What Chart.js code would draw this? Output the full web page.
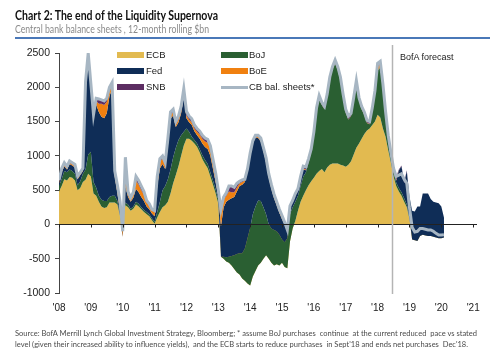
<!DOCTYPE html>
<html>
<head>
<meta charset="utf-8">
<script src="https://cdn.jsdelivr.net/npm/chart.js@4.4.1/dist/chart.umd.min.js"></script>
<style>
  body { margin: 0; width: 500px; height: 362px; background: #fff; position: relative; overflow: hidden; }
  #wrap { position: absolute; left: 0; top: 0; width: 500px; height: 362px; }
  .txt { position: absolute; white-space: nowrap; transform-origin: 0 50%; }
  #title { left: 15px; top: 9px; font: 700 12.5px/14px Lato, sans-serif; color: #111; }
  #subtitle { left: 15px; top: 23px; font: 400 10.5px/12px Lato, sans-serif; color: #8a8a8a; }
  #rule { position: absolute; left: 15px; top: 37px; width: 475px; height: 1.5px; background: #4a78b8; }
  .note { left: 15px; font: 400 8px/10px Lato, sans-serif; color: #4a4a4a; }
  .leg { position: absolute; font: 9.5px/12px "Liberation Sans", Arial, sans-serif; color: #222; }
  .sw { position: absolute; width: 27px; height: 6px; }
  #fc { position: absolute; left: 400px; top: 51px; font: 9px/12px "Liberation Sans", Arial, sans-serif; color: #222; }
</style>
</head>
<body>
<div id="wrap"><canvas id="chart"></canvas></div>

<div class="txt" id="title">Chart 2: The end of the Liquidity Supernova</div>
<div class="txt" id="subtitle">Central bank balance sheets , 12-month rolling $bn</div>
<div id="rule"></div>

<!-- legend, two columns inside the plot -->
<div class="sw" style="left:117px;top:52px;background:#e2ba50"></div><div class="leg" style="left:146px;top:49px">ECB</div>
<div class="sw" style="left:117px;top:68px;background:#0f2d57"></div><div class="leg" style="left:146px;top:65px">Fed</div>
<div class="sw" style="left:117px;top:84px;background:#5c2d62"></div><div class="leg" style="left:146px;top:81px">SNB</div>
<div class="sw" style="left:221px;top:52px;background:#2a5f32"></div><div class="leg" style="left:249px;top:49px">BoJ</div>
<div class="sw" style="left:221px;top:68px;background:#f08010"></div><div class="leg" style="left:249px;top:65px">BoE</div>
<div class="sw" style="left:221px;top:86px;height:2.5px;background:#a7b6c3"></div><div class="leg" style="left:249px;top:81px">CB bal. sheets*</div>

<div id="fc">BofA forecast</div>

<div class="txt note" id="note1" style="top:328px">Source: BofA Merrill Lynch Global Investment Strategy, Bloomberg; * assume BoJ purchases&nbsp; continue&nbsp; at the current reduced&nbsp; pace vs stated</div>
<div class="txt note" id="note2" style="top:339px">level (given their increased ability to influence yields),&nbsp; and the ECB starts to reduce purchases&nbsp; in Sept'18 and ends net purchases&nbsp; Dec'18.</div>

<script>
// monthly series, Jan 2008 onwards, $bn (12-month rolling change)
const startYear = 2008;

const ecb = [480,560,660,640,690,680,640,500,530,620,
  650,740,700,450,420,330,260,240,250,320,
  320,320,290,120,20,280,250,200,230,290,
  260,220,180,150,120,60,10,100,180,250,
  280,330,450,600,720,850,1000,1150,1250,1250,
  1220,1180,1130,1050,950,880,820,700,580,450,
  300,-470,-500,-540,-560,-600,-650,-700,-730,-790,
  -820,-860,-890,-760,-680,-600,-560,-500,-450,-500,
  -560,-600,-580,-600,-560,-620,-640,-250,-60,50,
  200,330,420,500,570,630,680,740,780,810,
  760,830,870,890,890,890,870,860,840,870,
  920,1020,1120,1180,1250,1320,1370,1400,1450,1500,
  1600,1560,1400,1280,1080,900,700,560,480,420,
  330,250,80,-220,-230,-240,-170,-150,-160,-170,
  -170,-180,-190,-200,-200,-190];

const boj = [80,100,120,120,110,100,100,70,100,120,
  150,280,360,170,120,90,100,100,90,80,
  100,100,50,20,0,40,40,30,30,40,
  40,30,30,30,30,30,30,80,150,250,
  280,330,350,380,400,380,300,200,150,100,
  60,50,50,50,60,60,60,60,60,60,
  60,0,30,60,90,140,200,270,310,370,
  470,660,840,910,940,950,900,750,600,500,
  500,520,480,450,340,360,440,400,310,280,
  220,230,280,260,330,430,620,900,1050,930,
  920,1030,1240,1370,1460,1360,1230,990,790,660,
  660,790,940,630,430,280,110,60,210,400,
  650,730,570,300,160,90,60,50,50,50,
  50,40,20,0,0,0,0,0,0,0,
  0,0,0,0,0,0];

const fed = [40,100,70,40,80,80,90,90,90,40,
  1200,1400,940,940,1210,1220,1210,1210,1280,1470,
  1560,280,120,50,-200,240,110,100,130,190,
  170,150,130,80,70,70,80,380,490,380,
  250,490,740,610,300,260,320,530,150,140,
  170,130,120,150,170,190,220,240,170,110,
  60,440,720,810,830,840,850,910,980,1000,
  970,980,1050,1030,1010,910,870,820,750,680,
  580,460,380,320,300,260,140,100,80,90,
  70,100,100,30,20,10,0,0,0,0,
  0,0,0,0,0,0,0,0,0,0,
  0,0,0,0,0,0,0,0,0,0,
  0,0,0,0,0,0,10,30,260,380,
  220,490,300,420,420,500,430,600,610,620,
  540,510,510,510,460,290];

const boe = [15,25,25,20,20,20,20,20,20,20,
  40,50,30,20,50,120,190,190,170,90,
  50,50,80,110,90,340,50,30,50,120,
  110,100,90,60,50,40,60,100,100,80,
  60,60,60,50,40,40,40,40,40,40,
  40,40,50,60,70,80,90,100,90,80,
  50,230,110,90,120,90,70,60,40,40,
  20,20,20,20,20,20,30,30,50,40,
  40,40,40,40,40,20,10,10,10,15,
  15,15,15,10,10,5,10,10,5,5,
  5,5,5,5,5,5,5,5,5,5,
  5,5,5,5,5,5,5,5,5,10,
  50,50,40,30,20,20,10,10,0,0,
  0,0,0,0,0,0,0,0,0,0,
  0,0,0,0,0,0];

const snb = [20,20,20,20,20,20,20,20,15,15,
  30,20,20,20,30,60,50,50,40,30,
  30,20,20,20,0,60,20,20,20,40,
  40,40,40,25,25,15,15,30,30,30,
  25,30,30,30,30,40,50,50,50,40,
  40,40,40,40,40,40,40,40,40,40,
  25,20,40,40,70,80,60,50,20,20,
  20,10,10,10,10,20,10,10,10,20,
  10,10,10,10,10,10,10,10,10,10,
  10,15,25,30,25,20,30,40,35,30,
  30,30,30,30,40,40,40,40,40,40,
  30,30,30,30,30,30,30,30,30,35,
  40,35,35,35,35,35,35,40,10,10,
  20,10,0,0,0,0,0,0,0,0,
  0,0,0,0,0,0];

const cbTotal = [645,815,900,845,925,900,875,705,760,820,
  2080,2500,2055,1600,1840,1830,1815,1800,1840,2000,
  2070,780,570,330,-100,980,480,390,470,700,
  640,560,480,350,300,220,200,700,960,1000,
  900,1250,1640,1680,1500,1580,1720,1980,1650,1580,
  1540,1450,1400,1360,1300,1260,1240,1150,950,750,
  500,220,400,460,560,560,540,600,630,650,
  660,810,1040,1220,1300,1300,1260,1120,970,740,
  580,440,330,220,130,30,-80,270,350,450,
  520,700,850,840,960,1100,1350,1700,1880,1780,
  1720,1900,2150,2300,2400,2300,2150,1900,1680,1580,
  1620,1850,2100,1850,1720,1640,1520,1500,1700,1950,
  2350,2380,2050,1650,1300,1050,820,700,720,740,
  660,600,250,-40,-110,-100,-60,-60,-70,-80,
  -80,-100,-130,-155,-155,-150];

const years = [2008,2009,2010,2011,2012,2013,2014,2015,2016,2017,2018,2019,2020,2021];
const yearLabels = ["'08","'09","'10","'11","'12","'13","'14","'15","'16","'17","'18","'19","'20","'21"];
const yTicks = [-1000,-500,0,500,1000,1500,2000,2500];
const forecastStart = 2018.46;

// fit html text to the widths it has in the original
function fit(id, w) {
  const el = document.getElementById(id);
  el.style.transform = 'scaleX(' + (w / el.getBoundingClientRect().width) + ')';
}
fit('title', 203);
fit('subtitle', 194);
fit('note1', 462);
fit('note2', 453);

// cumulative stacking, the way the spreadsheet draws it (later series painted over earlier)
const series = [
  { label: 'ECB', data: ecb, color: '#e2ba50' },
  { label: 'BoJ', data: boj, color: '#2a5f32' },
  { label: 'Fed', data: fed, color: '#0f2d57' },
  { label: 'BoE', data: boe, color: '#f08010' },
  { label: 'SNB', data: snb, color: '#5c2d62' }
];
const running = ecb.map(() => 0);
const datasets = series.map((s, k) => {
  const pts = s.data.map((v, i) => {
    running[i] += v;
    return { x: startYear + i / 12, y: running[i] };
  });
  return {
    label: s.label,
    data: pts,
    backgroundColor: s.color,
    borderWidth: 0,
    pointRadius: 0,
    fill: k === 0 ? 'origin' : '-1',
    order: 10 - k
  };
});
datasets.push({
  label: 'CB bal. sheets*',
  data: cbTotal.map((v, i) => ({ x: startYear + i / 12, y: v })),
  borderColor: '#a7b6c3',
  borderWidth: 3,
  pointRadius: 0,
  fill: false,
  order: 1
});

// zero axis with year ticks, plus the forecast divider
const overlay = {
  id: 'overlay',
  afterDatasetsDraw(chart) {
    const { ctx, chartArea: a, scales: { x, y } } = chart;
    const y0 = Math.round(y.getPixelForValue(0)) + 0.5;
    ctx.save();
    ctx.strokeStyle = '#222';
    ctx.lineWidth = 1;
    ctx.beginPath();
    ctx.moveTo(a.left, y0);
    ctx.lineTo(a.right, y0);
    years.forEach(v => {
      const px = Math.round(x.getPixelForValue(v)) + 0.5;
      ctx.moveTo(px, y0);
      ctx.lineTo(px, y0 + 3);
    });
    ctx.stroke();

    const fx = Math.round(x.getPixelForValue(forecastStart)) + 0.5;
    ctx.strokeStyle = '#b4b4b4';
    ctx.lineWidth = 1.5;
    ctx.beginPath();
    ctx.moveTo(fx, a.top - 8);
    ctx.lineTo(fx, a.bottom + 1);
    ctx.stroke();
    ctx.restore();
  }
};

Chart.defaults.font.family = '"Liberation Sans", Arial, sans-serif';
Chart.defaults.color = '#222';

new Chart(document.getElementById('chart'), {
  type: 'line',
  data: { datasets },
  options: {
    responsive: true,
    maintainAspectRatio: false,
    animation: false,
    layout: { padding: { top: 53, right: 23, bottom: 0, left: 0 } },
    elements: { line: { tension: 0 } },
    plugins: { legend: { display: false }, tooltip: { enabled: false } },
    scales: {
      x: {
        type: 'linear',
        min: 2008,
        max: 2021.12,
        afterFit: s => { s.height = 69; },
        afterBuildTicks: s => { s.ticks = years.map(v => ({ value: v })); },
        grid: { display: false, drawTicks: false },
        border: { display: false },
        ticks: {
          autoSkip: false,
          maxRotation: 0,
          padding: 9,
          font: { size: 10 },
          callback: v => yearLabels[years.indexOf(v)]
        }
      },
      y: {
        min: -1000,
        max: 2500,
        afterFit: s => { s.width = 59; },
        afterBuildTicks: s => { s.ticks = yTicks.map(v => ({ value: v })); },
        grid: { drawOnChartArea: false, tickLength: 4, color: '#444' },
        border: { display: true, color: '#444' },
        ticks: { padding: 5, font: { size: 10.5 }, callback: v => String(v) }
      }
    }
  },
  plugins: [overlay]
});
</script>
</body>
</html>
